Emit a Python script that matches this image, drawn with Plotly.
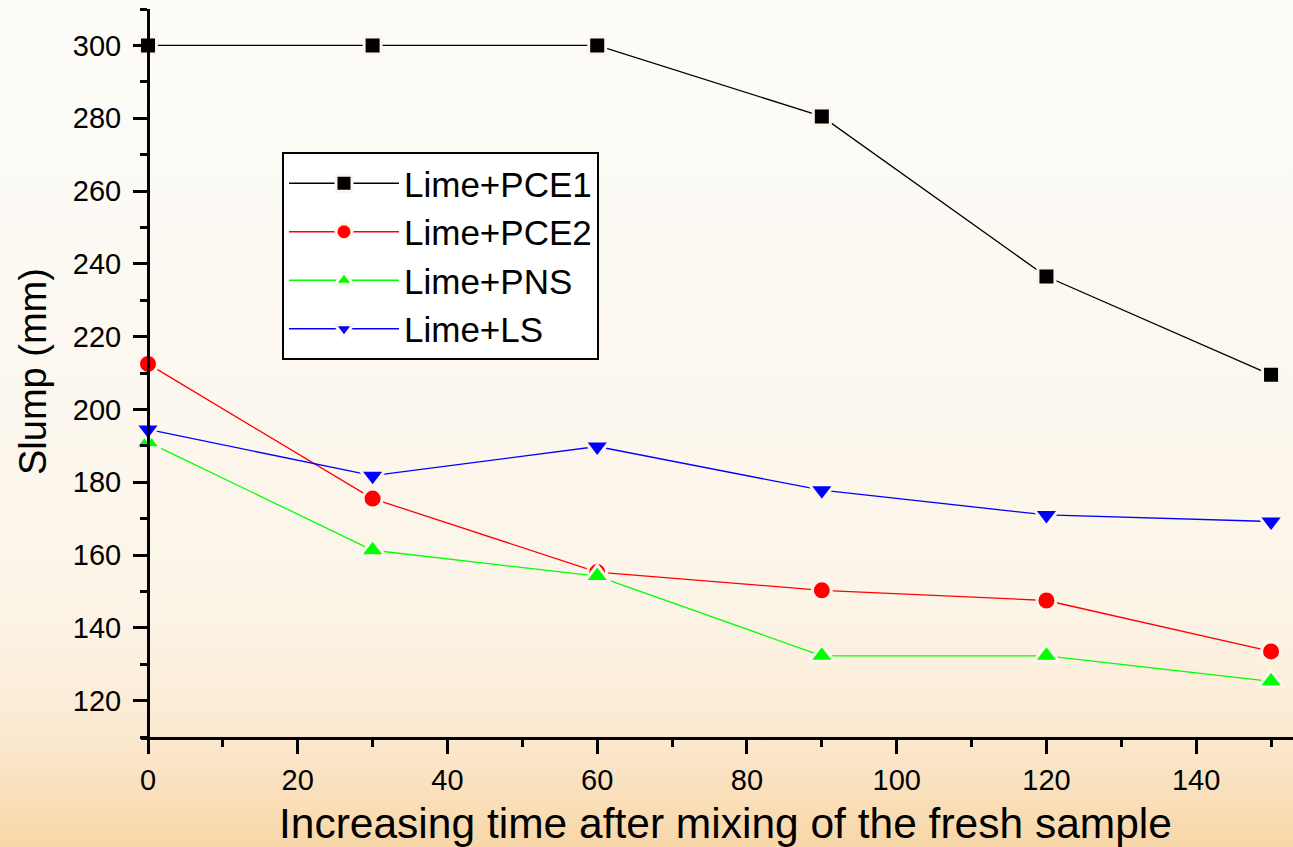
import base64
import plotly.graph_objects as go

# ---- data ----
time_min = [0, 30, 60, 90, 120, 150]
lime_pce1 = [300, 300, 300, 280.5, 236.5, 209.5]
lime_pce2 = [212.5, 175.5, 155.3, 150.3, 147.5, 133.5]
lime_pns = [191.0, 161.3, 154.2, 132.3, 132.3, 125.3]
lime_ls = [194.5, 181.8, 189.8, 177.8, 171.0, 169.2]

series_names = ["Lime+PCE1", "Lime+PCE2", "Lime+PNS", "Lime+LS"]
x_ticks = [0, 20, 40, 60, 80, 100, 120, 140]
y_ticks = [120, 140, 160, 180, 200, 220, 240, 260, 280, 300]

W, H = 1293, 847
ML, MR, MT, MB = 141, 0, 9, 110
plot_w = W - ML - MR
plot_h = H - MT - MB

FONT = "Arial, 'Liberation Sans', Helvetica, sans-serif"
GAP = "#FCF6EC"

styles = [
    dict(color="black", symbol="square", size=17),
    dict(color="red", symbol="circle", size=19),
    dict(color="#00FF00", symbol="triangle-up", size=22),
    dict(color="blue", symbol="triangle-down", size=22),
]

fig = go.Figure()
for name, ys, st in zip(series_names, [lime_pce1, lime_pce2, lime_pns, lime_ls], styles):
    fig.add_trace(go.Scatter(
        x=time_min, y=ys, name=name, mode="lines+markers",
        line=dict(color=st["color"], width=1.3),
        marker=dict(symbol=st["symbol"], size=st["size"], color=st["color"],
                    line=dict(color=GAP, width=3)),
        cliponaxis=False,
    ))

# gradient background as inline svg
svg = f'''<svg xmlns="http://www.w3.org/2000/svg" width="{W}" height="{H}" preserveAspectRatio="none">
<defs><linearGradient id="g" x1="0" y1="0" x2="0" y2="1">
<stop offset="0" stop-color="#FDFCF9"/>
<stop offset="0.45" stop-color="#FCF8F0"/>
<stop offset="0.72" stop-color="#FCF4E7"/>
<stop offset="0.86" stop-color="#FBEAD2"/>
<stop offset="1" stop-color="#F8D7A8"/>
</linearGradient></defs>
<rect width="{W}" height="{H}" fill="url(#g)"/></svg>'''
src = "data:image/svg+xml;base64," + base64.b64encode(svg.encode()).decode()

fig.add_layout_image(dict(
    source=src, xref="paper", yref="paper",
    x=-ML / plot_w, y=1 + MT / plot_h,
    sizex=W / plot_w, sizey=H / plot_h,
    xanchor="left", yanchor="top", sizing="stretch", layer="below",
))

axis_common = dict(
    showgrid=False, zeroline=False, showline=True, linecolor="black", linewidth=3,
    ticks="outside", ticklen=14, tickwidth=3, tickcolor="black",
    tickfont=dict(family=FONT, size=29, color="black"),
)

fig.update_layout(
    width=W, height=H,
    margin=dict(l=ML, r=MR, t=MT, b=MB, pad=0),
    paper_bgcolor="#FCF6EC", plot_bgcolor="rgba(0,0,0,0)",
    showlegend=True,
    legend=dict(
        x=(282 - ML) / plot_w, y=(H - MB - 152) / plot_h,
        xanchor="left", yanchor="top",
        bgcolor="white", bordercolor="black", borderwidth=2,
        font=dict(family=FONT, size=35, color="black"),
        itemwidth=110, tracegroupgap=0,
    ),
    xaxis=dict(
        range=[-(148 - ML) / 7.487, (W - 148) / 7.487],
        tickvals=x_ticks, ticktext=[str(v) for v in x_ticks],
        minor=dict(dtick=10, tick0=0, ticks="outside", ticklen=7, tickwidth=3, tickcolor="black"),
        ticklabelstandoff=1,
        **axis_common,
    ),
    yaxis=dict(
        range=[110, 310],
        tickvals=y_ticks, ticktext=[str(v) for v in y_ticks],
        minor=dict(dtick=10, tick0=0, ticks="outside", ticklen=7, tickwidth=3, tickcolor="black"),
        anchor="free", position=(148 - ML) / plot_w,
        ticklabelstandoff=6,
        **axis_common,
    ),
    annotations=[
        dict(text="Increasing time after mixing of the fresh sample",
             xref="paper", yref="paper", x=(725 - ML) / plot_w, y=-(823 - (H - MB)) / plot_h,
             xanchor="center", yanchor="middle", showarrow=False,
             font=dict(family=FONT, size=42.5, color="black")),
        dict(text="Slump (mm)", textangle=-90,
             xref="paper", yref="paper", x=-(ML - 33) / plot_w, y=(H - MB - 372) / plot_h,
             xanchor="center", yanchor="middle", showarrow=False,
             font=dict(family=FONT, size=38, color="black")),
    ],
)

fig.write_html("out.html")
